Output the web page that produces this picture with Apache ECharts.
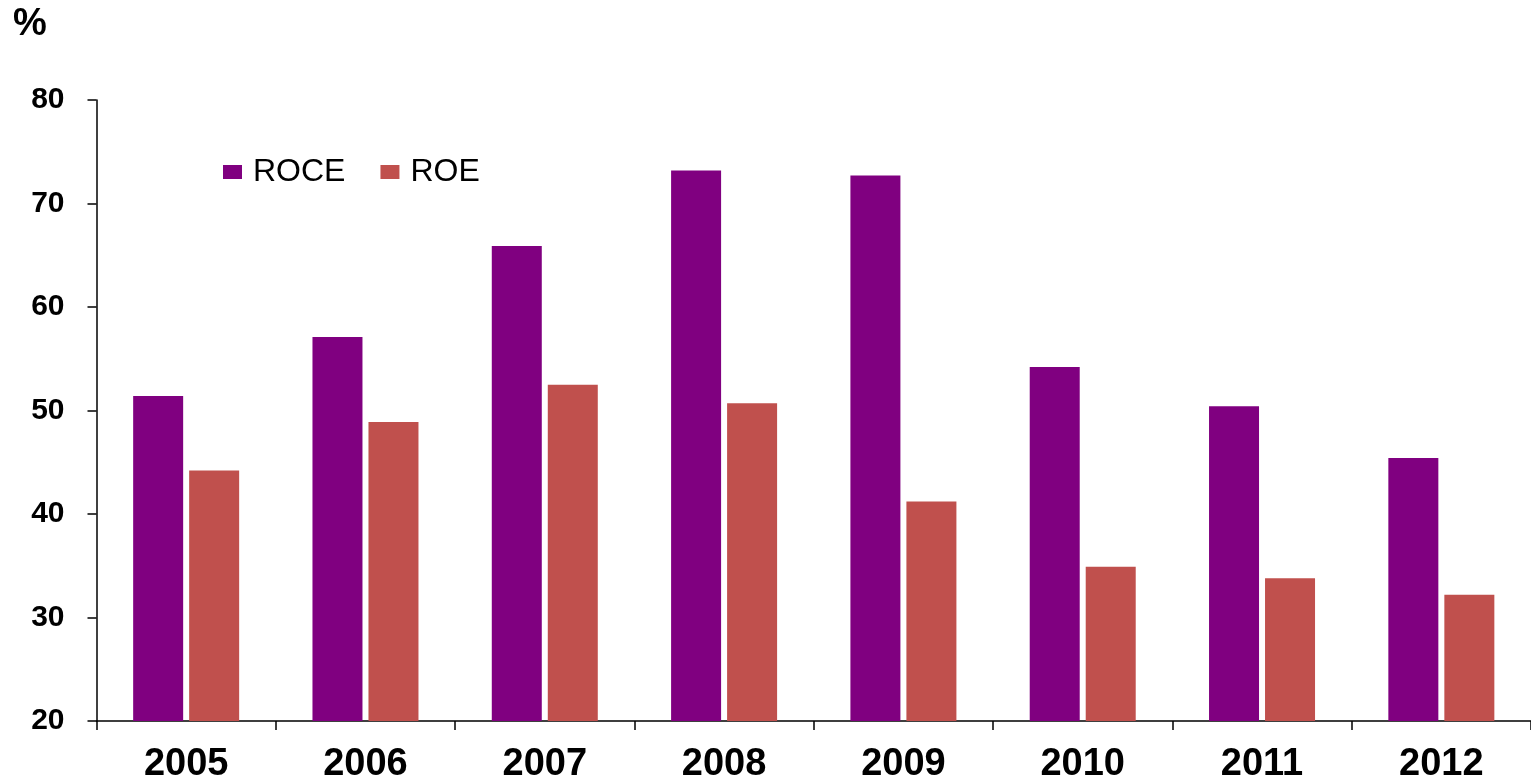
<!DOCTYPE html>
<html>
<head>
<meta charset="utf-8">
<script src="https://cdn.jsdelivr.net/npm/echarts@6/dist/echarts.min.js"></script>
<style>html,body{margin:0;padding:0;background:#fff}#c{width:1531px;height:784px}</style>
</head>
<body>
<div id="c"></div>
<script>
var categories = ['2005','2006','2007','2008','2009','2010','2011','2012'];
var roce = [51.4, 57.1, 65.9, 73.2, 72.7, 54.2, 50.4, 45.4];
var roe = [44.2, 48.9, 52.5, 50.7, 41.2, 34.9, 33.8, 32.2];
var yTicks = [20, 30, 40, 50, 60, 70, 80];

var chart = echarts.init(document.getElementById('c'), null, {renderer: 'canvas'});
var font = 'Liberation Sans, Arial, sans-serif';
chart.setOption({
  animation: false,
  backgroundColor: '#fff',
  textStyle: {fontFamily: font},
  graphic: [{
    type: 'text', left: 13, top: 6,
    style: {text: '%', font: 'bold 38px ' + font, fill: '#000'}
  }],
  legend: {
    left: 218, top: 151,
    icon: 'rect', itemWidth: 19, itemHeight: 14, itemGap: 35,
    textStyle: {fontSize: 32, color: '#000', fontFamily: font, padding: [0,0,0,6]},
    data: ['ROCE', 'ROE']
  },
  grid: {left: 96.5, top: 100, width: 1437, bottom: 62, containLabel: false},
  xAxis: {
    type: 'category', data: categories,
    axisLine: {lineStyle: {color: '#000', width: 1.5}},
    axisTick: {show: true, length: 9, alignWithLabel: false, lineStyle: {color: '#000', width: 1.5}},
    axisLabel: {fontSize: 38, fontWeight: 'bold', color: '#000', margin: 25, fontFamily: font}
  },
  yAxis: {
    type: 'value', min: yTicks[0], max: yTicks[yTicks.length-1], interval: 10,
    axisLine: {show: true, lineStyle: {color: '#000', width: 1.5}},
    axisTick: {show: true, length: 9, lineStyle: {color: '#000', width: 1.5}},
    splitLine: {show: false},
    axisLabel: {fontSize: 30, fontWeight: 'bold', color: '#000', margin: 32, fontFamily: font}
  },
  series: [
    {name: 'ROCE', type: 'bar', data: roce, barWidth: 50, barGap: '12%', itemStyle: {color: '#800080'}},
    {name: 'ROE', type: 'bar', data: roe, barWidth: 50, barGap: '12%', itemStyle: {color: '#C0504D'}}
  ]
});
</script>
</body>
</html>
